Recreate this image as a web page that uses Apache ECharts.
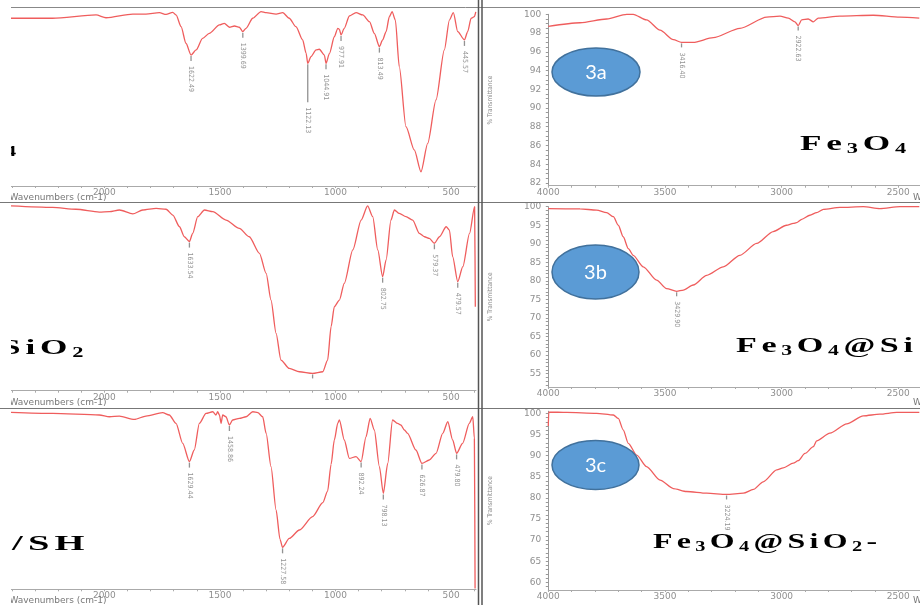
<!DOCTYPE html>
<html><head><meta charset="utf-8">
<script src="https://cdn.jsdelivr.net/npm/echarts@6/dist/echarts.min.js"></script>
<style>html,body{margin:0;padding:0;background:#fff}#c{width:920px;height:605px}</style>
</head><body><div id="c"></div><script>
// ---- spectra [wavenumber cm-1, %T] ----
const fe3o4Low = [[2404,95.3],[2224,95.3],[2036,97.2],[1993,95.6],[1877,97.7],[1820,97.7],[1762,98.5],[1733,97.5],[1704,98.7],[1690,97.2],[1668,90.5],[1647,81.1],[1625,74.4],[1603,77.3],[1575,83.9],[1546,86.7],[1502,91.5],[1481,92.4],[1459,90.2],[1437,90.9],[1416,90.2],[1401,87.7],[1387,89.6],[1358,95.3],[1322,99.1],[1300,98.5],[1257,97.7],[1228,98.5],[1200,95.3],[1171,90.5],[1142,83.0],[1127,75.4],[1120,69.7],[1106,73.5],[1084,77.3],[1070,77.7],[1048,74.4],[1041,69.7],[1026,75.4],[1005,84.8],[990,89.6],[983,89.0],[976,85.8],[962,89.6],[940,96.6],[911,98.5],[882,97.2],[853,93.4],[832,86.7],[810,79.2],[796,83.0],[781,87.7],[767,96.2],[755,99.1],[741,94.3],[724,67.8],[695,33.7],[659,20.5],[630,8.1],[601,24.2],[565,48.9],[529,77.3],[507,94.3],[490,98.5],[471,87.7],[442,83.0],[428,87.7],[413,95.3],[399,96.2],[393,99.0]];
const sio2Low = [[2404,99.5],[2224,98.7],[2123,97.7],[2022,96.2],[1978,96.4],[1935,97.3],[1877,95.2],[1834,97.3],[1776,98.2],[1733,97.7],[1704,94.6],[1675,88.3],[1654,82.9],[1632,80.3],[1618,84.7],[1596,93.7],[1567,97.3],[1531,96.4],[1474,91.9],[1416,87.4],[1373,82.9],[1329,74.0],[1300,63.2],[1279,48.8],[1257,30.9],[1236,16.5],[1200,12.0],[1156,10.2],[1099,9.3],[1055,10.2],[1034,16.5],[1019,34.5],[1005,45.2],[983,48.8],[962,57.8],[925,75.8],[889,91.9],[861,99.5],[839,93.7],[817,75.8],[796,61.4],[781,70.4],[760,91.9],[745,97.3],[724,95.5],[695,93.7],[666,91.9],[637,84.7],[615,82.9],[594,82.0],[572,79.4],[550,82.9],[521,88.3],[507,86.5],[493,72.2],[471,58.7],[449,66.8],[420,84.7],[398,99.1],[395,45.2]];
const shLow = [[2404,99.1],[2224,98.5],[2022,97.6],[1978,96.6],[1935,97.0],[1870,95.1],[1820,97.0],[1748,98.9],[1719,97.6],[1690,92.9],[1661,81.7],[1632,71.5],[1611,78.0],[1589,92.9],[1560,98.5],[1531,99.4],[1517,97.6],[1510,99.4],[1502,97.6],[1495,92.9],[1488,97.6],[1474,96.6],[1459,92.0],[1445,94.8],[1416,95.7],[1387,96.6],[1358,99.4],[1336,98.9],[1315,96.6],[1300,87.3],[1279,68.7],[1257,44.4],[1240,28.0],[1229,23.5],[1200,28.5],[1156,33.2],[1099,40.7],[1055,48.5],[1034,55.0],[1019,70.0],[1005,83.6],[990,93.0],[983,94.8],[962,83.6],[940,73.3],[911,74.3],[889,71.5],[868,85.4],[850,95.7],[832,89.2],[810,68.7],[793,53.7],[774,70.5],[753,94.8],[731,92.9],[717,92.0],[702,89.2],[688,87.3],[652,78.0],[626,70.5],[594,72.4],[565,76.1],[536,87.3],[514,93.8],[493,83.6],[476,76.1],[450,81.7],[421,92.9],[406,96.6],[399,84.5],[396,0.5]];
const fe3o4High = [[4000,98.7],[3864,99.1],[3750,99.5],[3664,100.0],[3636,100.0],[3579,99.4],[3521,98.3],[3464,97.3],[3429,97.0],[3379,97.0],[3293,97.5],[3179,98.5],[3064,99.7],[3007,99.8],[2971,99.6],[2943,99.2],[2929,98.8],[2914,99.4],[2886,99.5],[2864,99.2],[2843,99.6],[2750,99.8],[2607,99.9],[2493,99.7],[2410,99.6]];
const sio2High = [[4000,99.5],[3864,99.4],[3793,99.1],[3750,98.4],[3721,97.3],[3700,95.0],[3679,91.9],[3657,88.7],[3636,86.9],[3593,83.8],[3536,80.2],[3493,77.9],[3450,77.2],[3421,77.5],[3379,78.9],[3321,81.5],[3250,83.8],[3179,86.9],[3107,90.1],[3036,93.3],[2979,95.0],[2950,95.5],[2936,95.7],[2914,96.6],[2879,97.7],[2850,98.4],[2821,99.3],[2750,99.8],[2650,100],[2579,99.5],[2493,100],[2410,100]];
const shHigh = [[4000,97.0],[3998,100.3],[3921,100.2],[3793,100],[3721,99.6],[3700,98.8],[3679,96.1],[3657,92.9],[3621,90.1],[3579,87.4],[3521,84.2],[3464,82.2],[3407,81.5],[3321,81.1],[3236,80.8],[3164,81.1],[3121,82.0],[3079,83.8],[3021,86.6],[2993,87.1],[2950,88.2],[2929,88.8],[2900,90.5],[2864,92.1],[2850,93.5],[2793,95.3],[2721,97.5],[2650,99.4],[2579,99.8],[2507,100.2],[2410,100.2]];

// ---- peak picks [wavenumber, %T, label, marker length] ----
const peaksFe3o4Low = [[1625,74.4,'1622.49',5],[1401,87.7,'1399.69',5],[1120,69.7,'1122.13',38],[1041,69.7,'1044.91',5],[976,85.8,'977.91',5],[810,79.2,'813.49',5],[442,83.0,'445.57',5]];
const peaksSio2Low = [[1632,80.3,'1633.54',5],[1099,9.3,'',4],[796,61.4,'802.75',5],[572,79.4,'579.37',5],[471,58.7,'479.57',5]];
const peaksShLow = [[1632,71.5,'1629.44',5],[1459,92.0,'1458.86',5],[1229,23.5,'1227.58',5],[889,71.5,'892.24',5],[793,53.7,'798.13',5],[626,70.5,'626.87',5],[476,76.1,'479.80',5]];
const peaksFe3o4High = [[3429,97.0,'3416.40',4],[2929,98.8,'2922.63',4]];
const peaksSio2High = [[3450,77.2,'3429.90',4]];
const peaksShHigh = [[3236,80.8,'3224.19',4]];

// ---- tick labels ----
const lowTicks = [500,1000,1500,2000];
const highTicks = [2500,3000,3500,4000];
const yTicks1 = [82,84,86,88,90,92,94,96,98,100];
const yTicks2 = [55,60,65,70,75,80,85,90,95,100];
const yTicks3 = [60,65,70,75,80,85,90,95,100];

const range = (a,b,s) => { const r=[]; for (let v=a; v<=b+1e-9; v+=s) r.push(+v.toFixed(2)); return r; };
const LINE = '#ef5d5d';
const labelStyle = {color:'#8f8f8f', fontSize:9, fontFamily:'DejaVu Sans', formatter:(v) => String(v)};

const grids = [
  {left:11, top:10, width:465, height:176},
  {left:11, top:205, width:465, height:185.7},
  {left:11, top:410.7, width:465, height:178.6},
  {left:548.3, top:14.3, width:371.7, height:171.4},
  {left:548.3, top:206.7, width:371.7, height:180.3},
  {left:548.3, top:411.2, width:371.7, height:178.8}
];
const xAxes = grids.map((g,i) => {
  const low = i < 3;
  return {
    type:'value', gridIndex:i, inverse:true,
    min: low ? 392 : 2407, max: low ? 2404 : 4000,
    splitLine:{show:false},
    axisLine:{show:true, lineStyle:{color:'#aaa', width:1}},
    axisTick:{show:true, length:2, lineStyle:{color:'#aaa'}, customValues: low ? range(400,2400,100) : range(2500,4000,100)},
    axisLabel:Object.assign({margin:2, customValues: low ? lowTicks : highTicks}, labelStyle)
  };
});
const yRanges = [[0,100],[0,100],[0,100],[81.7,100],[51.4,100],[58.2,100.5]];
const yLabelSets = [null,null,null,yTicks1,yTicks2,yTicks3];
const yTickSets = [null,null,null,range(82,100,0.5),range(52,100,1),range(59,100,1)];
const yAxes = grids.map((g,i) => {
  if (i < 3) return {type:'value', gridIndex:i, min:0, max:100, show:false};
  return {
    type:'value', gridIndex:i, min:yRanges[i][0], max:yRanges[i][1],
    splitLine:{show:false},
    name:'% Transmittance', nameLocation:'middle', nameGap:54, nameRotate:90,
    nameTextStyle:{color:'#888', fontSize:6.5, fontFamily:'DejaVu Sans Condensed'},
    axisLine:{show:true, lineStyle:{color:'#999', width:1}},
    axisTick:{show:true, length:2.5, lineStyle:{color:'#999'}, customValues:yTickSets[i]},
    axisLabel:Object.assign({margin:7, customValues:yLabelSets[i]}, labelStyle)
  };
});
const spectra = [fe3o4Low, sio2Low, shLow, fe3o4High, sio2High, shHigh];
const peaks = [peaksFe3o4Low, peaksSio2Low, peaksShLow, peaksFe3o4High, peaksSio2High, peaksShHigh];
const series = [];
spectra.forEach((d,i) => {
  series.push({type:'line', xAxisIndex:i, yAxisIndex:i, data:d, showSymbol:false, symbol:'none',
    smooth:0.25, smoothMonotone:'x', clip:false, lineStyle:{color:LINE, width:1.3}, z:2, silent:true});
});
peaks.forEach((pk,i) => {
  series.push({type:'scatter', xAxisIndex:i, yAxisIndex:i, z:3, silent:true, symbol:'rect',
    data: pk.map(p => ({value:[p[0],p[1]], symbolSize:[1.3,p[3]], symbolOffset:[0,p[3]/2+1],
      label:{show:true, formatter:p[2]}})),
    itemStyle:{color:'#777'},
    label:{show:true, position:'bottom', distance:2, rotate:-90, align:'left', verticalAlign:'middle',
      offset:[3,0], color:'#777', fontSize:7, fontFamily:'DejaVu Sans Condensed'}
  });
});

const serif = 'Liberation Serif';
const rich = {
  n:{fontSize:22, fontWeight:'bold', fontFamily:serif, lineHeight:22, verticalAlign:'top', padding:[0,3,0,0], fill:'#000', color:'#000'},
  s:{fontSize:14, fontWeight:'bold', fontFamily:serif, lineHeight:14, verticalAlign:'top', padding:[9,3,0,0], fill:'#000', color:'#000'}
};
function bigText(x, y, text, sx) {
  return {type:'text', x:x, y:y, scaleX:sx, z:10, silent:true,
    style:{text:text, rich:rich, fill:'#000', align:'left', verticalAlign:'top', textAlign:'left', textVerticalAlign:'top'}};
}
function smallText(x, y, text, align) {
  return {type:'text', x:x, y:y, silent:true, z:5,
    style:{text:text, fill:'#777', fontSize:9, fontFamily:'DejaVu Sans', align:align, verticalAlign:'middle', textAlign:align, textVerticalAlign:'middle'}};
}
function ellipse(cx, cy, rx, ry, label) {
  return [
    {type:'ellipse', shape:{cx:cx, cy:cy, rx:rx, ry:ry}, z:20, silent:true,
      style:{fill:'#5B9BD5', stroke:'#41719C', lineWidth:1.5}},
    {type:'text', x:cx, y:cy+1, z:21, silent:true,
      style:{text:label, fill:'#fff', fontSize:20, fontFamily:'Lato', align:'center', verticalAlign:'middle', textAlign:'center', textVerticalAlign:'middle'}}
  ];
}
function hline(y, x1, x2, color, w) {
  return {type:'line', shape:{x1:x1, y1:y, x2:x2, y2:y}, z:30, silent:true, style:{stroke:color, lineWidth:w}};
}
function vline(x, y1, y2, color, w) {
  return {type:'line', shape:{x1:x, y1:y1, x2:x, y2:y2}, z:30, silent:true, style:{stroke:color, lineWidth:w}};
}
const graphics = [
  smallText(58, 198, 'Wavenumbers (cm-1)', 'center'),
  smallText(58, 403, 'Wavenumbers (cm-1)', 'center'),
  smallText(58, 601, 'Wavenumbers (cm-1)', 'center'),
  smallText(913, 198, 'Wavenumbers (cm-1)', 'left'),
  smallText(913, 403, 'Wavenumbers (cm-1)', 'left'),
  smallText(913, 601, 'Wavenumbers (cm-1)', 'left'),
  bigText(800, 133, '{n|F}{n|e}{s|3}{n|O}{s|4}', 1.6),
  bigText(5, 136, '{s|4}', 1.6),
  bigText(1, 337, '{n|S}{n|i}{n|O}{s|2}', 1.6),
  bigText(12, 533, '{n|/}{n|S}{n|H}', 1.75),
  bigText(736, 335, '{n|F}{n|e}{s|3}{n|O}{s|4}{n|@}{n|S}{n|i}', 1.55),
  bigText(653, 531, '{n|F}{n|e}{s|3}{n|O}{s|4}{n|@}{n|S}{n|i}{n|O}{s|2}{n|-}', 1.45),
  {type:'rect', shape:{x:0, y:0, width:11, height:605}, z:25, silent:true, style:{fill:'#fff'}},
  hline(7.5, 11, 920, '#888', 1),
  hline(202.5, 0, 920, '#777', 1),
  hline(408.5, 0, 920, '#777', 1),
  vline(478.5, 0, 605, '#555', 1.5),
  vline(482, 0, 605, '#555', 1.5)
].concat(ellipse(596, 72, 44, 24, '3a'), ellipse(595.5, 272, 43.5, 27, '3b'), ellipse(595.5, 465, 43.5, 24.5, '3c'));

const chart = echarts.init(document.getElementById('c'));
chart.setOption({
  animation:false, backgroundColor:'#fff',
  grid:grids, xAxis:xAxes, yAxis:yAxes, series:series, graphic:{elements:graphics}
});
</script></body></html>
